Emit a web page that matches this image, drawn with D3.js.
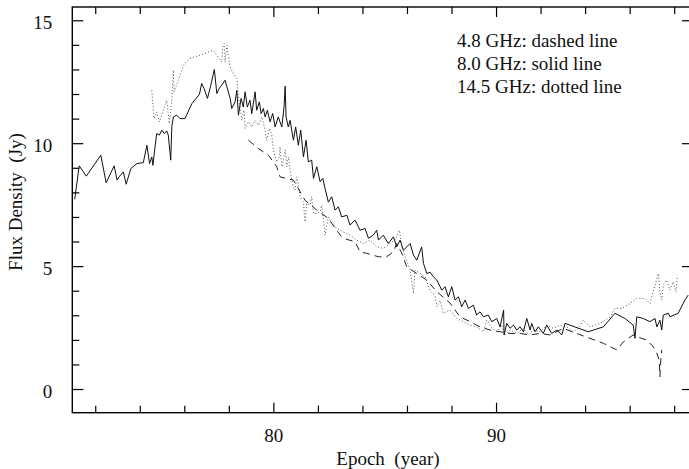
<!DOCTYPE html>
<html lang="en">
<head>
    <meta charset="UTF-8">
    <title>Flux Density vs Epoch</title>
    <script src="https://d3js.org/d3.v7.min.js"></script>
    <style>
        body { margin: 0; background: #fff; }
        text { font-family: "Liberation Serif", "Times New Roman", serif; fill: #111; }
        .tick line { stroke: #000; stroke-width: 1.2px; }
        .frame { fill: none; stroke: #000; stroke-width: 1.4px; }
        .s8 { fill: none; stroke: #111; stroke-width: 1px; }
        .s48 { fill: none; stroke: #222; stroke-width: 1px; stroke-dasharray: 7,5; }
        .s145 { fill: none; stroke: #555; stroke-width: 1px; stroke-dasharray: 1,2.2; }
    </style>
</head>
<body>
<div id="chart"></div>
<script>
    // 8.0 GHz (solid line)
    const yearsSolid = [71.08, 71.28, 71.6, 72.25, 72.49, 72.85, 72.98, 73.07, 73.26, 73.39, 73.6, 73.87, 74.16, 74.32, 74.44,
        74.54, 74.59, 74.69, 74.76, 74.88, 74.99, 75.1, 75.21, 75.28, 75.39, 75.44, 75.51, 75.66, 75.81, 76.03, 76.34, 76.68,
        76.78, 76.89, 77.04, 77.19, 77.35, 77.46, 77.55, 77.68, 77.83, 78.06, 78.13, 78.28, 78.36, 78.43, 78.55, 78.65, 78.73,
        78.83, 78.95, 79.03, 79.18, 79.25, 79.37, 79.45, 79.55, 79.63, 79.73, 79.85, 79.97, 80.08, 80.22, 80.38, 80.48, 80.53,
        80.57, 80.67, 80.75, 80.9, 81.0, 81.12, 81.23, 81.35, 81.47, 81.57, 81.72, 81.8, 81.95, 82.1, 82.22, 82.32, 82.47,
        82.62, 82.77, 82.92, 83.07, 83.3, 83.44, 83.67, 83.89, 84.12, 84.27, 84.49, 84.64, 84.72, 84.94, 85.16, 85.39, 85.54,
        85.69, 85.84, 85.99, 86.14, 86.29, 86.44, 86.66, 86.74, 86.89, 87.04, 87.18, 87.34, 87.49, 87.56, 87.71, 87.86, 88.01,
        88.16, 88.31, 88.46, 88.61, 88.76, 88.98, 89.13, 89.28, 89.43, 89.65, 89.81, 90.03, 90.18, 90.34, 90.36, 90.48, 90.63,
        90.78, 90.93, 91.08, 91.23, 91.38, 91.53, 91.6, 91.75, 91.9, 92.12, 92.28, 92.5, 92.73, 92.95, 93.1, 94.14, 94.82,
        95.34, 95.79, 96.16, 96.24, 96.32, 96.61, 96.91, 97.14, 97.22, 97.36, 97.44, 97.51, 97.74, 97.81, 98.18, 98.48, 98.63];
    const fluxSolid = [7.72, 9.08, 8.66, 9.51, 8.39, 9.08, 8.5, 8.63, 8.83, 8.33, 8.97, 9.17, 9.21, 9.92, 9.17,
        9.44, 9.1, 9.89, 10.39, 10.33, 10.53, 10.39, 10.5, 10.33, 9.31, 10.69, 11.07, 11.14, 11.0, 11.0, 11.61, 11.99,
        12.43, 12.22, 11.82, 12.36, 13.0, 12.02, 12.2, 12.36, 12.56, 11.82, 11.41, 11.68, 12.15, 11.14, 11.82, 11.47, 12.09,
        11.47, 11.75, 11.2, 12.09, 11.34, 11.68, 11.2, 11.41, 11.07, 11.34, 10.87, 11.21, 10.66, 11.07, 10.66, 11.48, 12.32,
        11.07, 10.66, 10.93, 10.12, 10.66, 9.92, 10.53, 9.44, 10.12, 9.24, 9.31, 8.57, 9.04, 8.43, 8.57, 8.16, 7.6,
        7.82, 7.28, 7.41, 7.0, 7.07, 6.67, 6.87, 6.46, 6.53, 6.13, 6.26, 6.46, 6.06, 6.26, 5.92, 6.19, 5.78,
        6.06, 5.65, 5.78, 5.92, 5.45, 5.24, 5.78, 5.11, 4.7, 4.75, 4.57, 4.43, 4.16, 4.02, 4.16, 3.75, 4.16,
        3.62, 3.75, 3.35, 3.62, 3.28, 3.41, 3.01, 3.14, 2.94, 3.01, 2.74, 2.87, 2.53, 3.21, 2.2, 2.67, 2.47,
        2.6, 2.4, 2.53, 2.33, 2.87, 2.4, 2.67, 2.33, 2.53, 2.26, 2.6, 2.26, 2.4, 2.2, 2.67, 2.33, 2.53,
        3.08, 2.87, 2.6, 2.06, 2.94, 2.87, 2.74, 2.87, 2.53, 2.8, 2.4, 3.01, 3.08, 2.94, 3.08, 3.62, 3.82];

    // 14.5 GHz (dotted line)
    const yearsDotted = [74.54, 74.64, 74.76, 74.88, 75.06, 75.21, 75.33, 75.44, 75.51, 75.54, 75.73, 75.96, 76.23, 76.71,
        77.31, 77.68, 77.73, 77.79, 77.83, 77.91, 78.06, 78.2, 78.36, 78.43, 78.58, 78.68, 78.73, 78.88, 79.03, 79.18, 79.33,
        79.48, 79.63, 79.7, 79.82, 79.93, 80.0, 80.15, 80.27, 80.3, 80.38, 80.45, 80.53, 80.6, 80.67, 80.75, 80.83, 80.9,
        80.97, 81.05, 81.12, 81.2, 81.28, 81.35, 81.42, 81.5, 81.65, 81.72, 81.8, 81.95, 82.1, 82.17, 82.25, 82.32, 82.47,
        82.62, 82.85, 83.14, 83.44, 83.74, 84.04, 84.34, 84.64, 84.94, 85.24, 85.47, 85.66, 85.77, 85.92, 86.14, 86.29, 86.36,
        86.59, 86.81, 87.04, 87.26, 87.34, 87.49, 87.63, 87.93, 88.24, 88.53, 88.83, 89.13, 89.43, 89.58, 89.81, 90.03,
        90.26, 90.4, 90.63, 90.93, 91.23, 91.45, 91.68, 91.98, 92.28, 92.57, 92.87, 93.17, 93.47, 93.7, 93.92, 94.22,
        94.67, 95.12, 95.34, 95.64, 96.02, 96.32, 96.69, 96.91, 97.14, 97.29, 97.36, 97.44, 97.51, 97.66, 97.81, 97.96,
        98.08, 98.14];
    const fluxDotted = [12.15, 11.0, 11.27, 10.87, 11.34, 11.75, 10.8, 11.75, 12.97, 12.09, 12.56, 13.17, 13.44, 13.58,
        13.78, 13.3, 13.92, 14.05, 13.3, 13.98, 13.1, 12.83, 12.63, 11.95, 10.93, 11.34, 10.6, 10.87, 10.66, 10.93, 10.73,
        11.07, 10.53, 10.12, 10.6, 10.33, 9.72, 9.24, 9.44, 9.85, 9.04, 9.31, 9.72, 9.04, 9.44, 8.9, 8.5, 8.22,
        8.09, 8.63, 8.36, 7.82, 7.68, 7.61, 6.8, 7.55, 7.48, 7.82, 7.14, 7.14, 7.21, 7.48, 6.87, 6.26, 7.0,
        6.74, 6.53, 6.39, 6.26, 6.06, 5.92, 6.06, 5.78, 5.72, 5.92, 6.06, 6.46, 5.78, 5.38, 4.84, 3.89, 4.84,
        4.7, 4.57, 4.0, 3.8, 3.35, 3.6, 3.08, 3.21, 2.87, 2.74, 2.6, 2.53, 2.33, 2.8, 2.47, 2.33,
        2.6, 2.2, 2.4, 2.26, 2.47, 2.2, 2.4, 2.33, 2.6, 2.47, 2.6, 2.53, 2.33, 2.47, 2.8, 2.53,
        2.67, 2.94, 3.28, 3.28, 3.48, 3.69, 3.69, 3.48, 4.23, 4.7, 3.96, 3.62, 4.23, 4.43, 4.02, 4.36,
        3.96, 4.56];

    // 4.8 GHz (dashed line)
    const yearsDashed = [78.88, 79.33, 79.78, 80.15, 80.3, 80.9, 81.42, 81.95, 82.47, 83.0, 83.14, 83.67, 83.89, 84.19,
        84.72, 85.09, 85.39, 85.54, 85.77, 85.99, 86.44, 86.89, 87.34, 87.93, 88.38, 88.83, 89.28, 89.73, 90.18, 90.63,
        91.08, 91.53, 91.98, 92.43, 93.02, 93.62, 94.22, 94.82, 95.42, 95.72, 96.16, 96.32, 96.77, 97.06, 97.22, 97.33,
        97.36, 97.4, 97.44];
    const fluxDashed = [10.12, 9.78, 9.51, 9.04, 8.63, 8.5, 7.68, 7.28, 6.94, 6.26, 6.13, 5.99, 5.58, 5.52,
        5.38, 5.38, 5.58, 5.92, 5.52, 4.97, 4.7, 4.43, 3.96, 3.5, 2.94, 2.74, 2.53, 2.4, 2.33, 2.26,
        2.26, 2.2, 2.26, 2.2, 2.47, 2.26, 2.06, 1.86, 1.59, 1.92, 2.2, 2.13, 1.99, 1.72, 1.45, 1.18,
        0.5, 1.18, 1.59];

    const xMajor = [80, 90];
    const xMinor = [72, 74, 76, 78, 82, 84, 86, 88, 92, 94, 96, 98];
    const yMajor = [0, 5, 10, 15];
    const yMinor = [1, 2, 3, 4, 6, 7, 8, 9, 11, 12, 13, 14];
    const legendLines = ["4.8 GHz: dashed line", "8.0 GHz: solid line", "14.5 GHz: dotted line"];

    const W = 689, H = 469;
    const mLeft = 72.3, mRight = 692, mTop = 7, mBottom = 412.7;

    const svg = d3.select("#chart").append("svg")
        .attr("width", W)
        .attr("height", H);

    const x = d3.scaleLinear().domain([70.97, 98.8]).range([mLeft, mRight]);
    const y = d3.scaleLinear().domain([-0.963, 15.54]).range([mBottom, mTop]);

    svg.append("clipPath").attr("id", "clip")
        .append("rect").attr("x", mLeft).attr("y", mTop)
        .attr("width", mRight - mLeft).attr("height", mBottom - mTop);

    const line = d3.line().x(d => x(d[0])).y(d => y(d[1]));
    const zip = (a, b) => a.map((v, i) => [v, b[i]]);

    const curves = svg.append("g").attr("clip-path", "url(#clip)");
    curves.append("path").attr("class", "s145").attr("d", line(zip(yearsDotted, fluxDotted)));
    curves.append("path").attr("class", "s48").attr("d", line(zip(yearsDashed, fluxDashed)));
    curves.append("path").attr("class", "s8").attr("d", line(zip(yearsSolid, fluxSolid)));

    // frame
    svg.append("rect").attr("class", "frame")
        .attr("x", mLeft).attr("y", mTop)
        .attr("width", mRight - mLeft).attr("height", mBottom - mTop);

    const noDomain = g => g.select(".domain").remove();

    // bottom axis (ticks pointing inward)
    svg.append("g").attr("transform", `translate(0,${mBottom})`)
        .call(d3.axisBottom(x).tickValues(xMajor).tickSize(-10).tickPadding(16).tickFormat(d3.format("d")))
        .call(noDomain)
        .call(g => g.selectAll("text").attr("font-size", 19).attr("dy", "0.71em"));
    svg.append("g").attr("transform", `translate(0,${mBottom})`)
        .call(d3.axisBottom(x).tickValues(xMinor).tickSize(-7).tickFormat(""))
        .call(noDomain);

    // top axis
    svg.append("g").attr("transform", `translate(0,${mTop})`)
        .call(d3.axisTop(x).tickValues(xMajor).tickSize(-10).tickFormat(""))
        .call(noDomain);
    svg.append("g").attr("transform", `translate(0,${mTop})`)
        .call(d3.axisTop(x).tickValues(xMinor).tickSize(-7).tickFormat(""))
        .call(noDomain);

    // left axis
    svg.append("g").attr("transform", `translate(${mLeft},0)`)
        .call(d3.axisLeft(y).tickValues(yMajor).tickSize(-11).tickPadding(20).tickFormat(d3.format("d")))
        .call(noDomain)
        .call(g => g.selectAll("text").attr("font-size", 19).attr("dy", "0.45em"));
    svg.append("g").attr("transform", `translate(${mLeft},0)`)
        .call(d3.axisLeft(y).tickValues(yMinor).tickSize(-7).tickFormat(""))
        .call(noDomain);

    // right axis
    svg.append("g").attr("transform", `translate(${mRight},0)`)
        .call(d3.axisRight(y).tickValues(yMajor).tickSize(-10).tickFormat(""))
        .call(noDomain);

    // axis titles
    svg.append("text")
        .attr("x", 388).attr("y", 465)
        .attr("text-anchor", "middle")
        .attr("font-size", 19)
        .style("white-space", "pre")
        .text("Epoch  (year)");

    svg.append("text")
        .attr("transform", "translate(22,202) rotate(-90)")
        .attr("text-anchor", "middle")
        .attr("font-size", 19)
        .style("white-space", "pre")
        .text("Flux Density  (Jy)");

    // legend text
    svg.append("g").selectAll("text")
        .data(legendLines)
        .join("text")
        .attr("x", 457)
        .attr("y", (d, i) => 46.7 + i * 23)
        .attr("font-size", 19)
        .text(d => d);
</script>
</body>
</html>
